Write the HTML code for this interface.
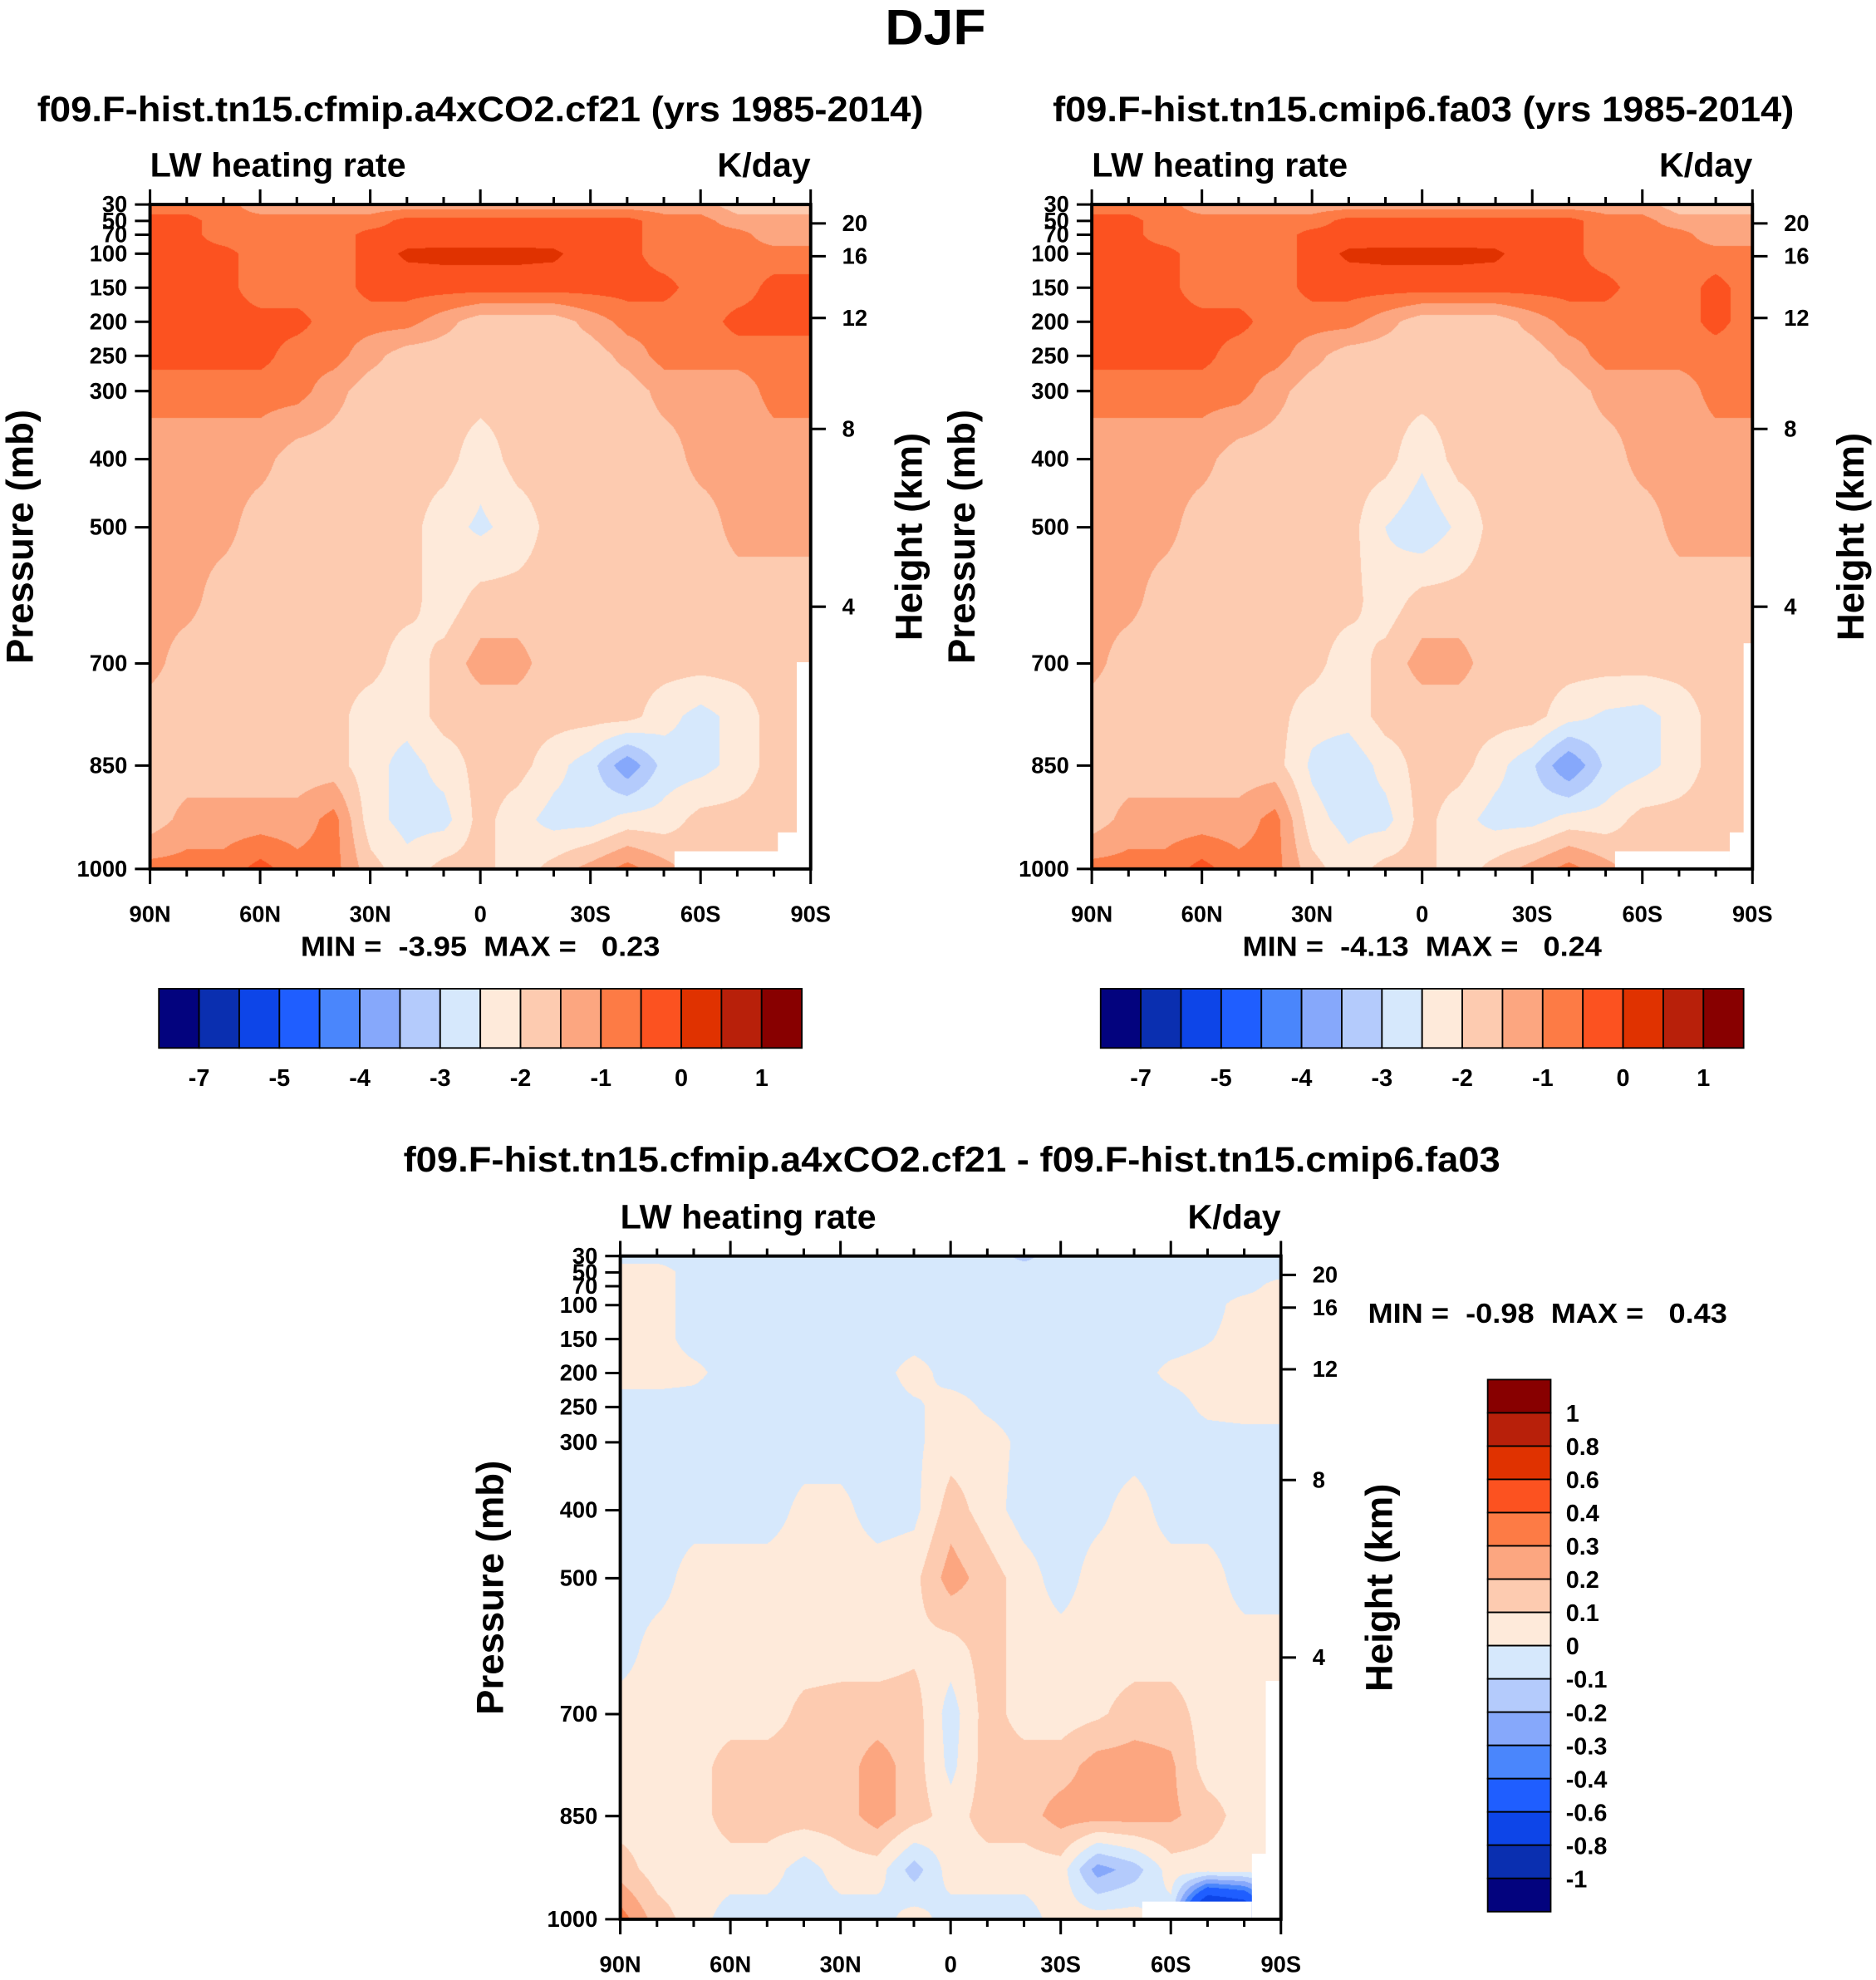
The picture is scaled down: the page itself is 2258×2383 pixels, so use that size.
<!DOCTYPE html>
<html><head><meta charset="utf-8">
<style>
html,body{margin:0;padding:0;background:#fff;}
body{width:2258px;height:2383px;position:relative;overflow:hidden;}
canvas{position:absolute;}
svg{position:absolute;left:0;top:0;}
text{font-family:"Liberation Sans",sans-serif;font-weight:bold;fill:#000;white-space:pre;}
</style></head>
<body>
<canvas id="c1"></canvas>
<canvas id="c2"></canvas>
<canvas id="c3"></canvas>
<svg id="svg" width="2258" height="2383" viewBox="0 0 1488 1570"></svg>
<script>
// ---------- data ----------
const pressures = [30,50,70,100,150,200,250,300,400,500,600,700,775,850,925,1000];
const lats = [90,80,70,60,50,40,30,20,10,0,-10,-20,-30,-40,-50,-60,-70,-80,-90];
const pressureTicks = [30,50,70,100,150,200,250,300,400,500,700,850,1000];
const heightTicks = ["20","16","12","8","4"];
const latTickLabels = ["90N","60N","30N","0","30S","60S","90S"];
const absLevels = [-7,-6,-5,-4.5,-4,-3.5,-3,-2.5,-2,-1.5,-1,-0.5,0,0.5,1];
const absLabels = ["-7","-5","-4","-3","-2","-1","0","1"];
const diffLevels = [-1,-0.8,-0.6,-0.4,-0.3,-0.2,-0.1,0,0.1,0.2,0.3,0.4,0.6,0.8,1];
const diffLabels = ["1","0.8","0.6","0.4","0.3","0.2","0.1","0","-0.1","-0.2","-0.3","-0.4","-0.6","-0.8","-1"];
const palette = ["#03037e","#0a2fb0","#0d45e8","#1f5eff","#4a86fc","#86a8fb","#b4cbfc","#d6e8fc","#feeada","#fdcbb0","#fca680","#fd7b45","#fc5220","#e03200","#b8200a","#880000"];

const field1 = [
[-0.8,-0.8,-0.8,-1.3,-1.3,-1.3,-1.3,-1.3,-1.3,-1.3,-1.3,-1.3,-1.3,-1.3,-1.3,-1.3,-1.8,-1.8,-1.8],
[-0.3,-0.3,-0.8,-0.8,-0.8,-0.8,-0.8,-0.3,-0.3,-0.3,-0.3,-0.3,-0.3,-0.3,-0.8,-0.8,-1.3,-1.3,-1.3],
[-0.3,-0.3,-0.8,-0.8,-0.8,-0.8,-0.3,-0.3,-0.3,-0.3,-0.3,-0.3,-0.3,-0.3,-0.8,-0.8,-0.8,-1.3,-1.3],
[-0.3,-0.3,-0.3,-0.8,-0.8,-0.8,-0.3,0.1,0.15,0.15,0.15,0.1,-0.3,-0.3,-0.8,-0.8,-0.8,-0.8,-0.8],
[-0.3,-0.3,-0.3,-0.8,-0.8,-0.8,-0.3,-0.3,-0.3,-0.3,-0.3,-0.3,-0.3,-0.3,-0.3,-0.8,-0.8,-0.3,-0.3],
[-0.3,-0.3,-0.3,-0.3,-0.3,-0.8,-0.8,-0.8,-1.3,-1.8,-1.8,-1.8,-1.3,-0.8,-0.8,-0.8,-0.3,-0.3,-0.3],
[-0.3,-0.3,-0.3,-0.3,-0.8,-0.8,-1.3,-1.8,-1.8,-1.8,-1.8,-1.8,-1.8,-1.3,-0.8,-0.8,-0.8,-0.8,-0.8],
[-0.8,-0.8,-0.8,-0.8,-0.8,-1.3,-1.8,-1.8,-1.8,-1.8,-1.8,-1.8,-1.8,-1.8,-1.3,-1.3,-1.3,-0.8,-0.8],
[-1.3,-1.3,-1.3,-1.3,-1.8,-1.8,-1.8,-1.8,-1.8,-2.3,-1.8,-1.8,-1.8,-1.8,-1.8,-1.3,-1.3,-1.3,-1.3],
[-1.3,-1.3,-1.3,-1.8,-1.8,-1.8,-1.8,-1.8,-2.3,-2.6,-2.3,-1.8,-1.8,-1.8,-1.8,-1.8,-1.3,-1.3,-1.3],
[-1.3,-1.3,-1.8,-1.8,-1.8,-1.8,-1.8,-1.8,-2.3,-1.8,-1.8,-1.8,-1.8,-1.8,-1.8,-1.8,-1.8,-1.8,-1.8],
[-1.3,-1.8,-1.8,-1.8,-1.8,-1.8,-1.8,-2.3,-1.8,-1.3,-1.3,-1.8,-1.8,-1.8,-1.8,-1.8,-1.8,-1.8,-1.8],
[-1.8,-1.8,-1.8,-1.8,-1.8,-1.8,-2.3,-2.3,-1.8,-1.8,-1.8,-1.8,-1.8,-1.8,-2.3,-2.7,-2.3,-1.8,-1.8],
[-1.8,-1.8,-1.8,-1.8,-1.8,-1.8,-2.3,-2.7,-2.3,-1.8,-1.8,-2.3,-2.8,-3.9,-2.8,-2.7,-2.3,-1.8,-1.8],
[-1.8,-1.3,-1.3,-1.3,-1.3,-0.8,-2.3,-2.7,-2.7,-1.8,-2.3,-2.7,-2.7,-2.3,-2.3,-1.8,-1.8,-1.8,-1.8],
[-0.8,-0.8,-0.8,-0.3,-0.8,-0.8,-1.8,-2.3,-1.8,-1.8,-2.3,-1.8,-1.3,-0.8,-1.3,-1.8,-1.8,-1.8,-1.8]
];
const field2 = [
[-0.8,-0.8,-0.8,-1.3,-1.3,-1.3,-1.3,-1.3,-1.3,-1.3,-1.3,-1.3,-1.3,-1.3,-1.3,-1.3,-1.8,-1.8,-1.8],
[-0.3,-0.3,-0.8,-0.8,-0.8,-0.8,-0.8,-0.3,-0.3,-0.3,-0.3,-0.3,-0.3,-0.3,-0.8,-0.8,-1.3,-1.3,-1.3],
[-0.3,-0.3,-0.8,-0.8,-0.8,-0.8,-0.3,-0.3,-0.3,-0.3,-0.3,-0.3,-0.3,-0.3,-0.8,-0.8,-0.8,-1.3,-1.3],
[-0.3,-0.3,-0.3,-0.8,-0.8,-0.8,-0.3,0.1,0.15,0.15,0.15,0.1,-0.3,-0.3,-0.8,-0.8,-0.8,-0.8,-0.8],
[-0.3,-0.3,-0.3,-0.8,-0.8,-0.8,-0.3,-0.3,-0.3,-0.3,-0.3,-0.3,-0.3,-0.3,-0.3,-0.8,-0.8,-0.3,-0.8],
[-0.3,-0.3,-0.3,-0.3,-0.3,-0.8,-0.8,-0.8,-1.3,-1.8,-1.8,-1.8,-1.3,-0.8,-0.8,-0.8,-0.8,-0.3,-0.8],
[-0.3,-0.3,-0.3,-0.3,-0.8,-0.8,-1.3,-1.8,-1.8,-1.8,-1.8,-1.8,-1.8,-1.3,-0.8,-0.8,-0.8,-0.8,-0.8],
[-0.8,-0.8,-0.8,-0.8,-0.8,-1.3,-1.8,-1.8,-1.8,-1.8,-1.8,-1.8,-1.8,-1.8,-1.3,-1.3,-1.3,-0.8,-0.8],
[-1.3,-1.3,-1.3,-1.3,-1.8,-1.8,-1.8,-1.8,-1.8,-2.4,-1.8,-1.8,-1.8,-1.8,-1.8,-1.3,-1.3,-1.3,-1.3],
[-1.3,-1.3,-1.3,-1.8,-1.8,-1.8,-1.8,-1.8,-2.5,-2.9,-2.4,-1.8,-1.8,-1.8,-1.8,-1.8,-1.3,-1.3,-1.3],
[-1.3,-1.3,-1.8,-1.8,-1.8,-1.8,-1.8,-1.8,-2.3,-1.8,-1.8,-1.8,-1.8,-1.8,-1.8,-1.8,-1.8,-1.8,-1.8],
[-1.3,-1.8,-1.8,-1.8,-1.8,-1.8,-1.8,-2.3,-1.8,-1.3,-1.3,-1.8,-1.8,-1.8,-1.8,-1.8,-1.8,-1.8,-1.8],
[-1.8,-1.8,-1.8,-1.8,-1.8,-1.8,-2.3,-2.3,-1.8,-1.8,-1.8,-1.8,-1.8,-2.3,-2.6,-2.7,-2.3,-1.8,-1.8],
[-1.8,-1.8,-1.8,-1.8,-1.8,-1.8,-2.6,-2.9,-2.3,-1.8,-1.8,-2.3,-2.9,-4.0,-2.9,-2.7,-2.3,-1.8,-1.8],
[-1.8,-1.3,-1.3,-1.3,-1.3,-0.8,-2.3,-2.7,-2.7,-1.8,-2.3,-2.7,-2.7,-2.3,-2.3,-1.8,-1.8,-1.8,-1.8],
[-0.8,-0.8,-0.8,-0.3,-0.8,-0.8,-1.8,-2.3,-1.8,-1.8,-2.3,-1.8,-1.3,-0.8,-1.3,-1.8,-1.8,-1.8,-1.8]
];
const field3 = [
[-0.05,-0.05,-0.05,-0.05,-0.05,-0.05,-0.05,-0.05,-0.05,-0.05,-0.05,-0.13,-0.05,-0.05,-0.05,-0.05,-0.05,-0.05,-0.05],
[0.05,0.05,-0.05,-0.05,-0.05,-0.05,-0.05,-0.05,-0.05,-0.05,-0.05,-0.05,-0.05,-0.05,-0.05,-0.05,-0.05,-0.05,-0.05],
[0.05,0.05,-0.05,-0.05,-0.05,-0.05,-0.05,-0.05,-0.05,-0.05,-0.05,-0.05,-0.05,-0.05,-0.05,-0.05,-0.05,-0.05,0.05],
[0.05,0.05,-0.05,-0.05,-0.05,-0.05,-0.05,-0.05,-0.05,-0.05,-0.05,-0.05,-0.05,-0.05,-0.05,-0.05,-0.05,0.05,0.05],
[0.05,0.05,-0.05,-0.05,-0.05,-0.05,-0.05,-0.05,-0.05,-0.05,-0.05,-0.05,-0.05,-0.05,-0.05,-0.05,-0.01,0.05,0.05],
[0.05,0.05,0.03,-0.05,-0.05,-0.05,-0.05,-0.05,0.05,-0.05,-0.05,-0.05,-0.05,-0.05,-0.05,0.03,0.05,0.05,0.05],
[-0.05,-0.05,-0.05,-0.05,-0.05,-0.05,-0.05,-0.05,-0.02,0.05,-0.02,-0.05,-0.05,-0.05,-0.05,-0.05,0.03,0.05,0.05],
[-0.05,-0.05,-0.05,-0.05,-0.05,-0.05,-0.05,-0.05,-0.02,0.05,0.05,-0.03,-0.05,-0.05,-0.05,-0.05,-0.05,-0.05,-0.05],
[-0.05,-0.05,-0.05,-0.05,-0.05,0.03,0.03,-0.05,-0.03,0.15,0.05,-0.05,-0.05,-0.03,0.05,-0.05,-0.05,-0.05,-0.05],
[-0.05,-0.05,0.05,0.05,0.05,0.05,0.05,0.05,0.07,0.25,0.15,0.05,-0.05,0.05,0.05,0.05,0.05,-0.05,-0.05],
[-0.05,0.05,0.05,0.05,0.05,0.05,0.05,0.05,0.08,0.05,0.15,0.05,0.05,0.05,0.05,0.05,0.05,0.05,0.05],
[0.05,0.05,0.05,0.05,0.05,0.13,0.15,0.15,0.15,-0.05,0.15,0.05,0.05,0.08,0.15,0.15,0.05,0.05,0.05],
[0.05,0.05,0.05,0.15,0.15,0.15,0.15,0.25,0.15,-0.03,0.15,0.15,0.15,0.25,0.25,0.22,0.05,0.05,0.05],
[0.05,0.05,0.05,0.15,0.15,0.15,0.15,0.25,0.15,0.05,0.15,0.15,0.25,0.25,0.25,0.22,0.15,0.05,0.05],
[0.15,0.05,0.05,0.05,0.05,-0.05,0.05,0.05,-0.15,0.05,0.05,0.05,0.05,-0.25,-0.15,0.05,0.05,0.05,0.05],
[0.35,0.15,0.05,-0.05,-0.05,-0.05,-0.05,-0.05,0.05,-0.05,-0.05,-0.05,0.05,0.05,0.05,-0.05,-1.2,-1.0,-0.05]
];

// ---------- layout (in 1488x1570 view units) ----------
const S = 2258/1488;
const pFrac = {30:0,50:13,70:24,100:39,150:66,200:93,250:120,300:148,400:202,500:256,600:314,700:364,775:406,850:445,925:488,1000:527};
const kmFrac = [15,41,90,178,319];
function yOfP(p, box){ return box.y + pFrac[p]/527*box.h; }
function xOfLat(lat, box){ return box.x + (90-lat)/180*box.w; }

const NS="http://www.w3.org/2000/svg";
const svg=document.getElementById('svg');
function mk(tag, attrs, parent){
  const e=document.createElementNS(NS,tag);
  for(const k in attrs) e.setAttribute(k,attrs[k]);
  (parent||svg).appendChild(e); return e;
}
function txt(str, x, y, size, anchor, name, parent, len){
  const t=mk('text',{x:x,y:y,'font-size':size,'text-anchor':anchor||'middle'},parent);
  if(len){ t.setAttribute('textLength',len); t.setAttribute('lengthAdjust','spacingAndGlyphs'); }
  t.textContent=str;
  
  
  return t;
}
function quant(v, levels){ let k=0; while(k<levels.length && v>=levels[k]) k++; return k; }
function hex(c){ return [parseInt(c.substr(1,2),16),parseInt(c.substr(3,2),16),parseInt(c.substr(5,2),16)]; }
const palRGB = palette.map(hex);

function drawField(canvasId, box, field, levels){
  const cv=document.getElementById(canvasId);
  const cw=Math.round(box.w*S), ch=Math.round(box.h*S);
  cv.width=cw; cv.height=ch;
  cv.style.left=(box.x*S)+'px'; cv.style.top=(box.y*S)+'px';
  cv.style.width=cw+'px'; cv.style.height=ch+'px';
  const ctx=cv.getContext('2d');
  const img=ctx.createImageData(cw,ch);
  const ys=pressures.map(p=>yOfP(p,box));
  const n=lats.length-1;
  for(let py=0;py<ch;py++){
    const yd=box.y+(py+0.5)/S;
    let k=0; while(k<ys.length-2 && yd>ys[k+1]) k++;
    let t=(yd-ys[k])/(ys[k+1]-ys[k]); t=Math.max(0,Math.min(1,t));
    const r0=field[k], r1=field[k+1];
    for(let px=0;px<cw;px++){
      const u=(px+0.5)/cw*n; let i=Math.min(n-1,Math.floor(u)); const s=u-i;
      const a=r0[i]*(1-s)+r0[i+1]*s, b=r1[i]*(1-s)+r1[i+1]*s;
      const v=a*(1-t)+b*t;
      const c=palRGB[quant(v,levels)];
      const o=(py*cw+px)*4;
      img.data[o]=c[0];img.data[o+1]=c[1];img.data[o+2]=c[2];img.data[o+3]=255;
    }
  }
  ctx.putImageData(img,0,0);
}

function axes(box, prefix){
  const g=mk('g',{});
  
  
  for(let lat=90; lat>=-90; lat-=10){
    const x=xOfLat(lat,box); const major=(lat%30===0);
    const L=major?12:6;
    mk('line',{x1:x,y1:box.y,x2:x,y2:box.y-L,stroke:'#000','stroke-width':2},g);
    mk('line',{x1:x,y1:box.y+box.h,x2:x,y2:box.y+box.h+L,stroke:'#000','stroke-width':2},g);
  }
  latTickLabels.forEach((lb,j)=>{
    txt(lb, xOfLat(90-30*j,box), box.y+box.h+42, 18,'middle', prefix+'-x-tick-'+lb, g);
  });
  pressureTicks.forEach(p=>{
    const y=yOfP(p,box);
    mk('line',{x1:box.x-12,y1:y,x2:box.x,y2:y,stroke:'#000','stroke-width':2},g);
    txt(String(p), box.x-18, y+6, 18,'end', prefix+'-pressure-tick-'+p, g);
  });
  heightTicks.forEach((h,j)=>{
    const y=box.y+kmFrac[j]/527*box.h;
    mk('line',{x1:box.x+box.w,y1:y,x2:box.x+box.w+12,y2:y,stroke:'#000','stroke-width':2},g);
    txt(h, box.x+box.w+25, y+6, 18,'start', prefix+'-height-tick-'+h, g);
  });
  mk('rect',{x:box.x,y:box.y,width:box.w,height:box.h,fill:'none',stroke:'#000','stroke-width':2.6},g);
  txt('LW heating rate', box.x, box.y-22, 27,'start', prefix+'-variable-label', g, 203);
  txt('K/day', box.x+box.w, box.y-22, 27,'end', prefix+'-units-label', g, 74);
  const cy=box.y+box.h*0.5;
  const t1=txt('Pressure (mb)', 0,0, 30,'middle', prefix+'-y-axis-title', g);
  t1.setAttribute('transform','translate('+(box.x-93)+','+cy+') rotate(-90)');
  const t2=txt('Height (km)', 0,0, 30,'middle', prefix+'-y2-axis-title', g);
  t2.setAttribute('transform','translate('+(box.x+box.w+88)+','+cy+') rotate(-90)');
}
function whiteRects(list, prefix){
  list.forEach((r,j)=>{
    const e=mk('rect',{x:r[0],y:r[1],width:r[2],height:r[3],fill:'#fff'});
    
    
  });
}
function hColorbar(x0,y0,w,h,prefix){
  const g=mk('g',{});
  
  
  const bw=w/palette.length;
  palette.forEach((c,j)=>{
    mk('rect',{x:x0+j*bw,y:y0,width:bw,height:h,fill:c,stroke:'#000','stroke-width':1.2},g);
  });
  absLabels.forEach((lb,j)=>{
    const b=1+2*j;
    txt(lb, x0+b*bw, y0+h+30, 19,'middle', prefix+'-colorbar-label', g);
  });
}
function vColorbar(x0,y0,w,h,prefix){
  const g=mk('g',{});
  
  
  const bh=h/palette.length;
  for(let j=0;j<palette.length;j++){
    mk('rect',{x:x0,y:y0+j*bh,width:w,height:bh,fill:palette[palette.length-1-j],stroke:'#000','stroke-width':1.2},g);
  }
  diffLabels.forEach((lb,j)=>{
    txt(lb, x0+62, y0+(j+1)*bh+7, 19,'start', prefix+'-colorbar-label', g);
  });
}

const box1={x:119,y:162,w:524,h:527};
const box2={x:866,y:162,w:524,h:527};
const box3={x:492,y:996,w:524,h:526};

drawField('c1',box1,field1,absLevels);
drawField('c2',box2,field2,absLevels);
drawField('c3',box3,field3,diffLevels);

whiteRects([[535,675,85,14],[632,525,11,164],[617,660,26,29]],'cf21');
whiteRects([[1281,675,91,14],[1383,510,7,179],[1372,660,18,29]],'fa03');
whiteRects([[906,1508,87,14],[1004,1333,12,189],[993,1470,23,52]],'diff');

axes(box1,'cf21');
axes(box2,'fa03');
axes(box3,'diff');

txt('DJF', 742, 35, 40,'middle','figure-title', null, 80);
txt('f09.F-hist.tn15.cfmip.a4xCO2.cf21 (yrs 1985-2014)', 381, 96, 28,'middle','cf21-panel-title', null, 703);
txt('f09.F-hist.tn15.cmip6.fa03 (yrs 1985-2014)', 1129, 96, 28,'middle','fa03-panel-title', null, 588);
txt('f09.F-hist.tn15.cfmip.a4xCO2.cf21 - f09.F-hist.tn15.cmip6.fa03', 755, 929, 28,'middle','diff-panel-title', null, 870);

txt('MIN =  -3.95  MAX =   0.23', 381, 758, 22,'middle','cf21-min-max', null, 285);
txt('MIN =  -4.13  MAX =   0.24', 1128, 758, 22,'middle','fa03-min-max', null, 285);
txt('MIN =  -0.98  MAX =   0.43', 1085, 1049, 22,'start','diff-min-max', null, 285);

hColorbar(126,784,510,47,'cf21');
hColorbar(873,784,510,47,'fa03');
vColorbar(1180,1094,50,422,'diff');
</script>
</body></html>
